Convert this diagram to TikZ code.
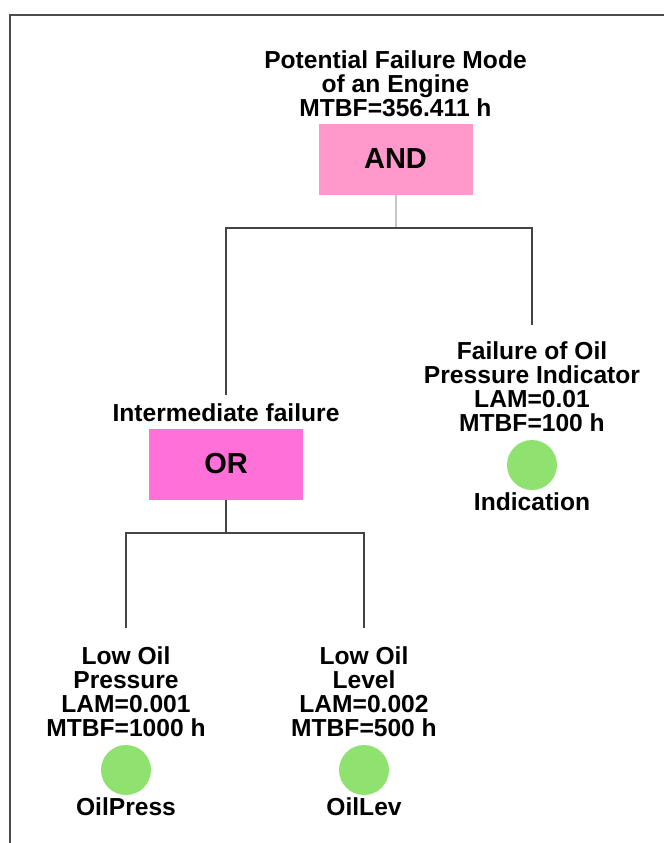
\documentclass[tikz,border=0pt]{standalone}
\usepackage{fontspec}
\setmainfont{Liberation Sans}
\usepackage{xcolor}
\usepackage{tikz}
\usetikzlibrary{positioning, calc}
\definecolor{andpink}{RGB}{255,153,204}
\definecolor{orpink}{RGB}{255,112,217}
\definecolor{basicgreen}{RGB}{144,226,112}
\definecolor{wiregray}{RGB}{68,68,68}
\tikzset{
    gate/.style={
        rectangle, draw=none,
        minimum width=77pt, minimum height=35.5pt,
        text centered, font=\fontsize{14.5}{15}\selectfont\bfseries,
    },
    andgate/.style={gate, fill=andpink},
    orgate/.style={gate, fill=orpink},
    basic/.style={
        circle, draw=none, fill=basicgreen,
        minimum size=25pt, inner sep=0pt,
    },
    lbl/.style={
        align=center, inner sep=0pt,
        font=\fontsize{12.3}{12}\selectfont\bfseries,
    },
    wire/.style={draw=wiregray, line width=0.75pt},
    stem/.style={draw=black!22, line width=1pt},
    frame/.style={draw=black!70, line width=1pt},
}

\begin{document}
\begin{tikzpicture}[x=0.5pt, y=-0.5pt]

    \useasboundingbox (0,0) rectangle (664,843);
    \draw[frame] (9.5,843) -- (9.5,14.7) -- (664,14.7);

    \node[andgate] (and) at (395.5,159) {AND};
    \node[lbl, above=3pt of and] (toplbl) {Potential Failure Mode\\of an Engine\\MTBF=356.411 h};

    \node[orgate] (or) at (226,464) {OR};
    \node[lbl, above=3pt of or] (midlbl) {Intermediate failure};

    \node[basic] (ind) at (532,465) {};
    \node[lbl, above=3.5pt of ind] (indlbl) {Failure of Oil\\Pressure Indicator\\LAM=0.01\\MTBF=100 h};
    \node[lbl, below=1pt of ind] (indname) {Indication};

    \node[basic] (press) at (126,770) {};
    \node[lbl, above=3.5pt of press] (presslbl) {Low Oil\\Pressure\\LAM=0.001\\MTBF=1000 h};
    \node[lbl, below=1pt of press] (pressname) {OilPress};

    \node[basic] (lev) at (364,770) {};
    \node[lbl, above=3.5pt of lev] (levlbl) {Low Oil\\Level\\LAM=0.002\\MTBF=500 h};
    \node[lbl, below=1pt of lev] (levname) {OilLev};

    \coordinate (andfork) at ($(and.south)+(0,33)$);
    \coordinate (orfork) at ($(or.south)+(0,33)$);

    \draw[stem] (and.south) -- (andfork);
    \draw[wire, shorten >=4pt] (andfork) -| (midlbl.north);
    \draw[wire, shorten >=8.5pt] (andfork) -| (indlbl.north);

    \draw[wire] (or.south) -- (orfork);
    \draw[wire, shorten >=9.5pt] (orfork) -| (presslbl.north);
    \draw[wire, shorten >=9.5pt] (orfork) -| (levlbl.north);

\end{tikzpicture}
\end{document}
